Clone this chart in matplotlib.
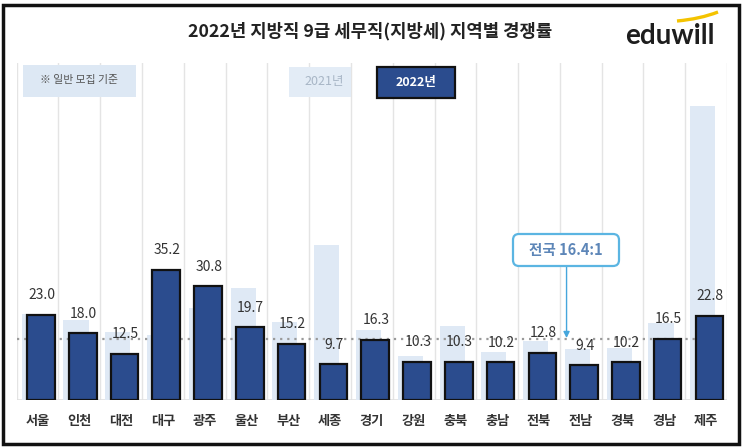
import matplotlib
matplotlib.use("Agg")
import matplotlib.pyplot as plt
from matplotlib.patches import Rectangle, FancyBboxPatch, PathPatch
from matplotlib.path import Path

plt.rcParams['font.family'] = ['Noto Sans CJK KR', 'DejaVu Sans']

regions = ['서울', '인천', '대전', '대구', '광주', '울산', '부산', '세종', '경기',
           '강원', '충북', '충남', '전북', '전남', '경북', '경남', '제주']
rate_2022 = [23.0, 18.0, 12.5, 35.2, 30.8, 19.7, 15.2, 9.7, 16.3,
             10.3, 10.3, 10.2, 12.8, 9.4, 10.2, 16.5, 22.8]
rate_2021 = [23.3, 21.5, 18.3, 17.5, 25.0, 30.4, 21.2, 41.9, 18.9,
             12.0, 20.0, 13.1, 15.9, 13.8, 14.1, 20.7, 79.5]
national = 16.4
title = '2022년 지방직 9급 세무직(지방세) 지역별 경쟁률'
legend_labels = ['2021년', '2022년']
note = '※ 일반 모집 기준'

W, H = 743, 448
DARK = '#2b4c8e'
LIGHT = '#dfe9f5'

fig = plt.figure(figsize=(W / 100, H / 100), dpi=100)
fig.patch.set_facecolor('white')


def fx(x):
    return x / W


def fy(y):
    return 1 - y / H


ax_left, ax_right, ax_top, ax_bottom = 16.7, 727, 63, 400
ax = fig.add_axes([fx(ax_left), fy(ax_bottom), fx(ax_right - ax_left), (ax_bottom - ax_top) / H])
ax.set_xlim(-0.5, len(regions) - 0.5)
ymax = (ax_bottom - ax_top) / 3.7
ax.set_ylim(0, ymax)
for s in ax.spines.values():
    s.set_visible(False)
ax.set_yticks([])
ax.set_xticks([])

for k in range(len(regions) + 1):
    ax.axvline(k - 0.5, color='#e4e4e4', lw=1, zorder=0)
ax.axhline(0, color='#e0e0e0', lw=1.2, zorder=1)

x = list(range(len(regions)))
ax.bar([i - 0.08 for i in x], rate_2021, width=0.60, color=LIGHT, zorder=2, linewidth=0)
ax.axhline(national, color='#9a9a9a', lw=1.6, ls=(0, (1, 2.2)), zorder=3)
ax.bar([i + 0.08 for i in x], rate_2022, width=0.66, color=DARK, edgecolor='#111111',
       linewidth=1.6, zorder=4)

for i, v in enumerate(rate_2022):
    ax.annotate(f'{v:.1f}', (i + 0.1, v), xytext=(0, 9), textcoords='offset points',
                ha='center', va='bottom', fontsize=10, color='#333333', zorder=6,
                fontweight='medium')

for i, r in enumerate(regions):
    fig.text(fx(ax_left + (i + 0.5) * (ax_right - ax_left) / len(regions)), fy(421), r,
             ha='center', va='center', fontsize=9.5, fontweight='bold', color='#333333')

# national annotation
ax_x = 12.66
box_top, box_bot = 234, 266
ax.annotate('', xy=(ax_x, national + 0.35), xytext=(ax_x, (ax_bottom - box_bot) / 3.7),
            arrowprops=dict(arrowstyle='-|>', color='#45a6dc', lw=1.0, mutation_scale=9,
                            shrinkA=0, shrinkB=0), zorder=7)
r = 6
fig.patches.append(FancyBboxPatch(((513 + r) / 100, (H - box_bot + r) / 100),
                                  (619 - 513 - 2 * r) / 100, (box_bot - box_top - 2 * r) / 100,
                                  boxstyle=f'round,pad={r / 100},rounding_size={r / 100}',
                                  transform=fig.dpi_scale_trans, fc='white', ec='#5bb5e2',
                                  lw=1.6, zorder=8))
fig.text(fx(566), fy(250), f'전국 {national}:1', ha='center', va='center',
         fontsize=10.5, fontweight='bold', color='#5d86b8', zorder=9)

# title
fig.text(fx(370), fy(31.5), title, ha='center', va='center', fontsize=12.8,
         fontweight='bold', color='#222222')

# logo
fig.text(fx(625), fy(44), 'eduwill', ha='left', va='baseline', fontsize=20,
         fontweight='bold', family='Lato', color='#1d1d1d')
verts = [(fx(677), fy(21)), (fx(700), fy(19)), (fx(718), fy(12))]
fig.patches.append(PathPatch(Path(verts, [Path.MOVETO, Path.CURVE3, Path.CURVE3]),
                             transform=fig.transFigure, fc='none', ec='#f4c300', lw=2.4))

# note box
fig.patches.append(Rectangle((fx(23), fy(97)), fx(136 - 23), (97 - 65) / H,
                             transform=fig.transFigure, fc='#dde8f4', ec='none', zorder=5))
fig.text(fx(79.5), fy(80.5), note, ha='center', va='center', fontsize=7.8,
         color='#555555', zorder=6)

# legend boxes
fig.patches.append(Rectangle((fx(289), fy(97)), fx(351 - 289), (97 - 67) / H,
                             transform=fig.transFigure, fc='#e3ecf6', ec='none', zorder=5))
fig.text(fx(324), fy(82), legend_labels[0], ha='center', va='center', fontsize=9,
         color='#a8b6c6', zorder=6)
fig.patches.append(Rectangle((fx(377), fy(98)), fx(455 - 377), (98 - 67) / H,
                             transform=fig.transFigure, fc=DARK, ec='#111111', lw=1.6, zorder=5))
fig.text(fx(416), fy(82.5), legend_labels[1], ha='center', va='center', fontsize=9,
         fontweight='bold', color='white', zorder=6)

# outer frame
fig.patches.append(Rectangle((fx(2.5), fy(444)), fx(739 - 2.5), (444 - 5) / H,
                             transform=fig.transFigure, fc='none', ec='#111111', lw=2.5, zorder=10))

fig.savefig('out.png', dpi=100)
